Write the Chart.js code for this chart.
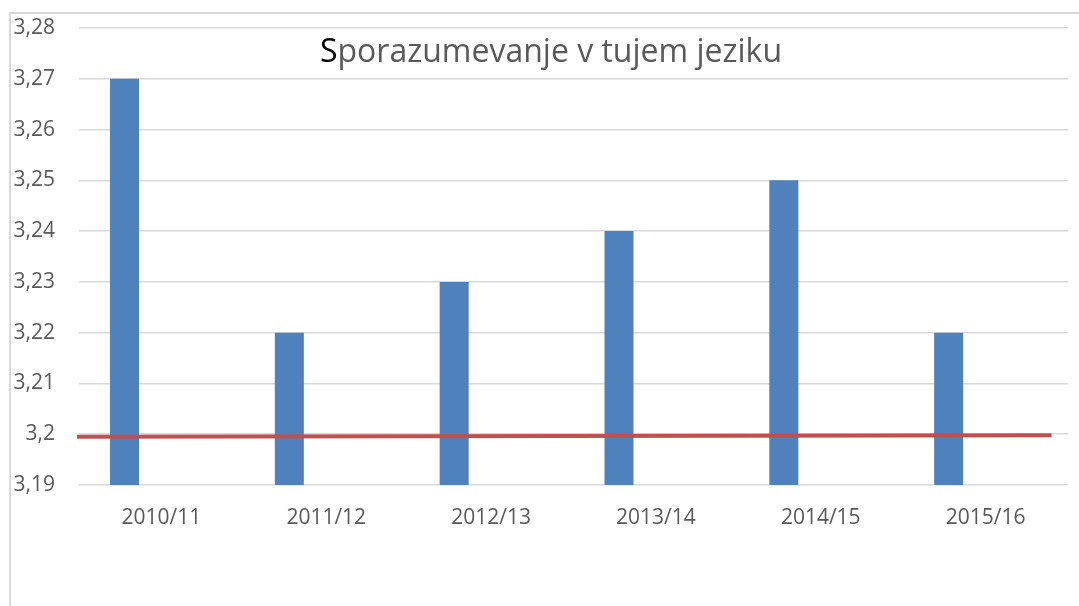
<!DOCTYPE html>
<html>
<head>
<meta charset="utf-8">
<script src="https://cdn.jsdelivr.net/npm/chart.js@4.4.1/dist/chart.umd.min.js"></script>
<style>
  html, body { margin: 0; padding: 0; background: #ffffff; }
  #wrap { position: relative; width: 1079px; height: 606px; overflow: hidden; }
  #frame { position: absolute; left: 9px; top: 12px; right: 0; bottom: 0;
           border-left: 2px solid #d9d9d9; border-top: 2px solid #d9d9d9; pointer-events: none; }
  canvas { position: absolute; left: 0; top: 0; }
</style>
</head>
<body>
<div id="wrap">
  <canvas id="c" width="1079" height="606"></canvas>
  <div id="frame"></div>
</div>
<script>
// ---- data ----
const categories = ['2010/11', '2011/12', '2012/13', '2013/14', '2014/15', '2015/16'];
const values = [3.27, 3.22, 3.23, 3.24, 3.25, 3.22];
const trendX = [-0.012, 5.9];
const trendY = [3.1995, 3.1998];
const yMin = 3.19, yMax = 3.28, yStep = 0.01;
const titleFirst = 'S';
const titleRest = 'porazumevanje v tujem jeziku';

const FONT = "'Open Sans', 'Noto Sans', sans-serif";

const titlePlugin = {
  id: 'mixedTitle',
  afterDraw(chart) {
    const ctx = chart.ctx;
    ctx.save();
    ctx.font = "32px " + FONT;
    ctx.textBaseline = 'alphabetic';
    const w1 = ctx.measureText(titleFirst).width;
    const w2 = ctx.measureText(titleRest).width;
    const cx = 551;
    const x0 = cx - (w1 + w2) / 2;
    ctx.fillStyle = '#000000';
    ctx.fillText(titleFirst, x0, 62);
    ctx.fillStyle = '#595959';
    ctx.fillText(titleRest, x0 + w1, 62);
    ctx.restore();
  }
};

new Chart(document.getElementById('c'), {
  data: {
    labels: categories,
    datasets: [
      {
        type: 'bar',
        label: 'Sporazumevanje v tujem jeziku',
        data: values,
        backgroundColor: '#4f81bd',
        borderWidth: 0,
        categoryPercentage: 0.896,
        barPercentage: 0.393,
        order: 2
      },
      {
        type: 'line',
        label: 'trend',
        data: trendX.map((x, i) => ({ x: x, y: trendY[i] })),
        xAxisID: 'x2',
        borderColor: '#c0504d',
        borderWidth: 4,
        pointRadius: 0,
        fill: false,
        clip: false,
        order: 1
      }
    ]
  },
  options: {
    responsive: false,
    animation: false,
    layout: { padding: { top: 28, right: 11, bottom: 0, left: 0 } },
    plugins: {
      legend: { display: false },
      title: { display: false },
      tooltip: { enabled: false }
    },
    scales: {
      x: {
        type: 'category',
        grid: { display: false, drawTicks: false },
        border: { display: false },
        ticks: { color: '#595959', font: { family: FONT, size: 21 }, padding: 20, maxRotation: 0 },
        afterFit(s) { s.height = 121; }
      },
      x2: {
        type: 'linear',
        display: false,
        min: 0,
        max: 6
      },
      y: {
        min: yMin,
        max: yMax,
        grid: { color: '#d9d9d9', lineWidth: 1.5, drawTicks: false },
        border: { display: false },
        ticks: {
          stepSize: yStep,
          color: '#595959',
          font: { family: FONT, size: 21 },
          padding: 24,
          callback: (v) => String(Math.round(v * 100) / 100).replace('.', ',')
        },
        afterFit(s) { s.width = 79; s.paddingTop = 0; s.paddingBottom = 0; }
      }
    }
  },
  plugins: [titlePlugin]
});
</script>
</body>
</html>
